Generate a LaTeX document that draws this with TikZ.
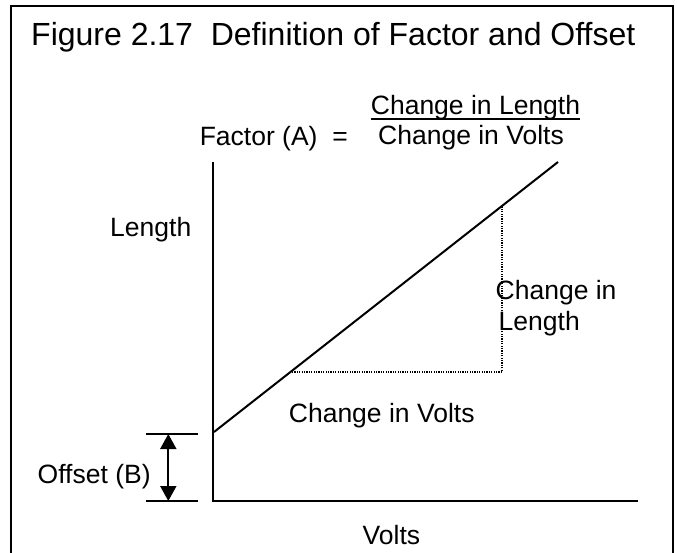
\documentclass[tikz,border=0pt]{standalone}
\usepackage{fontspec}
\setmainfont{Liberation Sans}
\usepackage{tikz}
\usetikzlibrary{arrows.meta,positioning,calc}

\begin{document}
\begin{tikzpicture}[x=1pt, y=-1pt,
  txt/.style={font=\fontsize{26.5pt}{31pt}\selectfont, inner sep=0pt, anchor=base west, align=left},
  axis/.style={line width=2pt},
  guide/.style={line width=1.2pt, dash pattern=on 1.2pt off 1.2pt}]

\useasboundingbox (0,0) rectangle (677,553);

% Frame (open at the bottom)
\draw[line width=2pt] (11,553) -- (11,6) -- (673,6) -- (673,553);

% Title
\node[txt, font=\fontsize{32pt}{36pt}\selectfont] (title) at (31,46)
  {Figure 2.17\ \ Definition of Factor and Offset};

% Factor formula
\node[txt] (factor) at (199.6,146) {Factor (A)\ \ =};
\node[txt] (num) at (370.7,115) {Change in Length};
\node[txt] (den) at (378,145) {Change in Volts};
\draw[line width=1.8pt] ([yshift=-4.3pt]num.base west) -- ([yshift=-4.3pt]num.base east);

% Axes
\coordinate (origin) at (213.3,501);
\coordinate (ytop) at (213.3,162);
\coordinate (xend) at (638,501);
\draw[axis] (ytop) -- (origin) -- (xend);
\node[txt] (ylab) at (110,237) {Length};
\node[txt] (xlab) at (362.5,544) {Volts};

% Straight line
\coordinate (lstart) at (214,432);
\coordinate (lend) at (558,162);
\draw[axis] (lstart) -- (lend);

% Slope triangle
\coordinate (p1) at (292,372);
\coordinate (p2) at (502,372);
\coordinate (p3) at (502,206);
\draw[guide] (p1) -- (p2) -- (p3);
\node[txt] (dlen) at (495.5,330) {Change in\\\hspace*{3pt}Length};
\node[txt] (dvolt) at (288.7,422) {Change in Volts};

% Offset dimension
\coordinate (btop) at (146,434);
\coordinate (btopr) at (198,434);
\coordinate (bbot) at (146,501);
\coordinate (bbotr) at (198,501);
\coordinate (atop) at (168.3,434);
\coordinate (abot) at (168.3,501);
\draw[axis] (btop) -- (btopr);
\draw[axis] (bbot) -- (bbotr);
\draw[line width=1.8pt, {Triangle[width=16pt,length=15pt]}-{Triangle[width=16pt,length=15pt]}] (atop) -- (abot);
\node[txt] (offset) at (37.5,483) {Offset (B)};

\end{tikzpicture}
\end{document}
